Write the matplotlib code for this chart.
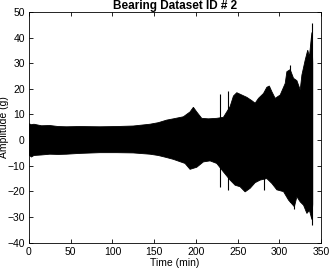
import matplotlib
matplotlib.use("Agg")
import matplotlib.pyplot as plt

plt.rcParams["font.family"] = ["Liberation Sans", "DejaVu Sans"]

# upper envelope of the vibration signal (time in min, amplitude in g)
t_up = [0, 3, 6, 15, 25, 35, 45, 60, 85, 105, 125, 145, 155, 165, 173, 185, 193, 197,
        201, 207, 215, 225, 233, 241, 245, 249, 255, 261, 267, 271, 275, 281, 285, 288,
        291, 295, 301, 307, 309, 313, 317, 321, 325, 327, 331, 334, 336, 338, 339, 340]
upper = [6.4, 6.0, 6.2, 5.6, 5.7, 5.3, 5.2, 5.3, 5.2, 5.3, 5.5, 6.2, 6.8, 7.8, 8.3, 9.1,
         11.0, 12.8, 11.0, 8.5, 8.3, 8.5, 8.9, 13.1, 17.2, 18.5, 17.6, 16.7, 15.4, 14.4,
         16.3, 18.2, 20.6, 21.1, 18.9, 16.3, 17.6, 22.1, 26.7, 27.5, 24.1, 23.2, 19.6,
         25.4, 31.3, 35.1, 32.5, 39.0, 42.0, 30.0]

# lower envelope
t_lo = [0, 3, 6, 15, 25, 35, 45, 60, 85, 105, 125, 145, 155, 165, 173, 187, 193, 201,
        209, 217, 225, 233, 241, 247, 253, 259, 265, 271, 277, 285, 291, 297, 305, 311,
        318, 321, 325, 329, 333, 336, 339, 340]
lower = [-5.8, -6.6, -6.0, -5.8, -5.5, -5.6, -5.5, -5.2, -4.9, -4.9, -5.0, -5.5, -6.0,
         -6.8, -7.5, -9.1, -11.4, -10.6, -8.5, -8.1, -9.1, -12.4, -15.6, -17.6, -18.2,
         -20.2, -18.8, -16.6, -15.6, -15.0, -16.9, -19.4, -20.1, -23.4, -26.0, -22.1,
         -24.1, -25.4, -28.6, -27.4, -31.0, -25.0]

# isolated spikes (time, top, bottom)
spike_t = [229, 238, 282, 313, 318, 339.3]
spike_top = [18.0, 19.3, 17.0, 29.3, 24.0, 45.6]
spike_bot = [-18.2, -19.4, -19.5, -24.0, -27.0, -33.2]

fig = plt.figure(figsize=(3.29, 2.72), dpi=100, facecolor="white")
ax = fig.add_axes([0.088, 0.108, 0.888, 0.848])

ax.fill(t_up + t_lo[::-1], upper + lower[::-1], color="black", linewidth=0.6)
ax.vlines(spike_t, spike_bot, spike_top, color="black", linewidth=0.8)

ax.set_xlim(0, 350)
ax.set_ylim(-40, 50)
ax.set_xticks(range(0, 351, 50))
ax.set_yticks(range(-40, 51, 10))
ax.tick_params(direction="in", top=True, right=True, labelsize=7.5, length=3,
               width=0.6, pad=3)
for s in ax.spines.values():
    s.set_linewidth(0.6)
ax.set_title("Bearing Dataset ID # 2", fontsize=8.5, fontweight="bold", pad=2)
ax.set_xlabel("Time (min)", fontsize=7.5, labelpad=1)
ax.set_ylabel("Amplitude (g)", fontsize=7.5)
ax.yaxis.set_label_coords(-0.068, 0.5)

fig.savefig("out.png", dpi=100)
